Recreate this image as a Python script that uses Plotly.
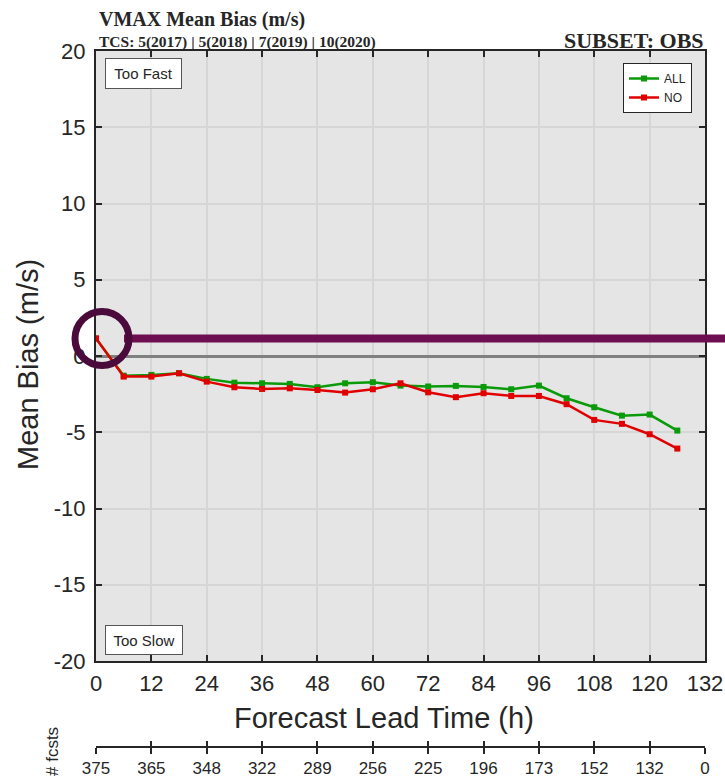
import plotly.graph_objects as go

# ---------------- data ----------------
lead_hours = [0, 6, 12, 18, 24, 30, 36, 42, 48, 54, 60, 66, 72, 78, 84, 90, 96, 102, 108, 114, 120, 126]
bias_all = [1.15, -1.29, -1.24, -1.13, -1.50, -1.75, -1.79, -1.83, -2.05, -1.79, -1.72, -1.94,
            -2.00, -1.96, -2.03, -2.18, -1.94, -2.77, -3.36, -3.91, -3.84, -4.89]
bias_no = [1.15, -1.35, -1.35, -1.13, -1.68, -2.05, -2.16, -2.12, -2.23, -2.40, -2.18, -1.79,
           -2.38, -2.70, -2.44, -2.62, -2.62, -3.16, -4.19, -4.45, -5.13, -6.07]
x_ticks = [0, 12, 24, 36, 48, 60, 72, 84, 96, 108, 120, 132]
n_fcsts = ["375", "365", "348", "322", "289", "256", "225", "196", "173", "152", "132", "0"]
y_ticks = [-20, -15, -10, -5, 0, 5, 10, 15, 20]
y_tick_text = ["-20", "-15", "-10", "-5", "0", "5", "10", "15", "20"]

# ---------------- geometry helpers ----------------
W, H = 725, 781
ML, MR, MT, MB = 96, 20, 51, 34
PLOT_BOTTOM = 661
paper_h = H - MT - MB
paper_w = W - ML - MR
ydom0 = (H - MB - PLOT_BOTTOM) / paper_h


def px_x(px):
    return (px - ML) / paper_w


def px_y(py):
    return (H - MB - py) / paper_h


TXT = "#262626"
SANS = "Liberation Sans, Arial, sans-serif"
SERIF = "Liberation Serif, Times New Roman, serif"

fig = go.Figure()
fig.add_trace(go.Scatter(x=lead_hours, y=bias_all, name="ALL", mode="lines+markers",
                         line=dict(color="#0a9a0a", width=2.5),
                         marker=dict(symbol="square", size=6, color="#0a9a0a")))
fig.add_trace(go.Scatter(x=lead_hours, y=bias_no, name="NO", mode="lines+markers",
                         line=dict(color="#e00000", width=2.5),
                         marker=dict(symbol="square", size=6, color="#e00000")))
# dummy traces to activate the forecast-count axis
fig.add_trace(go.Scatter(x=[x_ticks[0]], y=[None], xaxis="x2", showlegend=False, hoverinfo="skip"))
fig.add_trace(go.Scatter(x=[x_ticks[0]], y=[None], xaxis="x3", showlegend=False, hoverinfo="skip"))

axis_common = dict(ticks="inside", ticklen=6, tickwidth=1.5, tickcolor=TXT,
                   showline=True, linecolor=TXT, linewidth=2, mirror="ticks",
                   showgrid=True, gridcolor="#d6d6d6", gridwidth=1.5, automargin=False,
                   tickfont=dict(family=SANS, size=22, color=TXT))

fig.update_layout(
    width=W, height=H, autosize=False,
    margin=dict(l=ML, r=MR, t=MT, b=MB, autoexpand=False),
    paper_bgcolor="white", plot_bgcolor="#e5e5e5",
    showlegend=True,
    legend=dict(x=px_x(692), y=px_y(63), xanchor="right", yanchor="top",
                bgcolor="white", bordercolor=TXT, borderwidth=1,
                font=dict(family=SANS, size=12, color=TXT),
                tracegroupgap=0, itemwidth=30),
    xaxis=dict(range=[x_ticks[0], x_ticks[-1]], tickvals=x_ticks, zeroline=False,
               ticklabelstandoff=2, **axis_common),
    yaxis=dict(range=[y_ticks[0], y_ticks[-1]], tickvals=y_ticks, ticktext=y_tick_text,
               domain=[ydom0, 1],
               zeroline=True, zerolinecolor="#808080", zerolinewidth=3,
               ticklabelstandoff=4, **axis_common),
    xaxis2=dict(overlaying="x", anchor="free", position=0, side="bottom", automargin=False,
                range=[x_ticks[0], x_ticks[-1]], tickvals=x_ticks, ticktext=n_fcsts,
                ticks="outside", ticklen=6, tickwidth=1.5, tickcolor=TXT,
                showline=True, linecolor=TXT, linewidth=1.5, showgrid=False, zeroline=False,
                tickfont=dict(family=SANS, size=17, color=TXT)),
    xaxis3=dict(overlaying="x", anchor="free", position=0, side="bottom", automargin=False,
                range=[x_ticks[0], x_ticks[-1]], tickvals=x_ticks,
                ticks="inside", ticklen=6, tickwidth=1.5, tickcolor=TXT,
                showline=False, showgrid=False, zeroline=False, showticklabels=False),
)

annotations = [
    dict(text="<b>VMAX Mean Bias (m/s)</b>", x=px_x(97), y=px_y(19), xanchor="left", yanchor="middle",
         font=dict(family=SERIF, size=20, color=TXT)),
    dict(text="<b>TCS: 5(2017) | 5(2018) | 7(2019) | 10(2020)</b>", x=px_x(97), y=px_y(42),
         xanchor="left", yanchor="middle", font=dict(family=SERIF, size=15.5, color=TXT)),
    dict(text="<b>SUBSET: OBS</b>", x=px_x(706), y=px_y(41), xanchor="right", yanchor="middle",
         font=dict(family=SERIF, size=22, color=TXT)),
    dict(text="Mean Bias (m/s)", x=px_x(28), y=px_y(365), textangle=-90, xanchor="center",
         yanchor="middle", font=dict(family=SANS, size=29, color=TXT)),
    dict(text="Forecast Lead Time (h)", x=px_x(384), y=px_y(718), xanchor="center", yanchor="middle",
         font=dict(family=SANS, size=29, color=TXT)),
    dict(text="# fcsts", x=px_x(52), y=px_y(752), textangle=-90, xanchor="center", yanchor="middle",
         font=dict(family=SANS, size=17, color=TXT)),
    dict(text="Too Fast", x=px_x(143), y=px_y(73.5), xanchor="center", yanchor="middle",
         width=71, height=25, borderpad=2, bordercolor="#555555", borderwidth=1, bgcolor="white",
         font=dict(family=SANS, size=15, color=TXT)),
    dict(text="Too Slow", x=px_x(144), y=px_y(639.5), xanchor="center", yanchor="middle",
         width=72, height=24, borderpad=2, bordercolor="#555555", borderwidth=1, bgcolor="white",
         font=dict(family=SANS, size=15, color=TXT)),
]
for a in annotations:
    a.update(xref="paper", yref="paper", showarrow=False)
fig.update_layout(annotations=annotations)

# highlight overlay on the first red point
first_val = bias_no[0]
x_anchor_paper = (lead_hours[0] - x_ticks[0]) / (x_ticks[-1] - x_ticks[0])
fig.add_shape(type="line", xref="paper", yref="y", xsizemode="pixel", xanchor=x_anchor_paper,
              x0=28, x1=660, y0=first_val, y1=first_val,
              line=dict(color="#6d0e50", width=8), layer="above")
fig.add_shape(type="circle", xref="paper", yref="y", xsizemode="pixel", ysizemode="pixel",
              xanchor=x_anchor_paper, yanchor=first_val, x0=-21, x1=33, y0=-27, y1=27,
              line=dict(color="#4a0a3c", width=7), fillcolor="rgba(0,0,0,0)", layer="above")

fig.write_html("out.html")
